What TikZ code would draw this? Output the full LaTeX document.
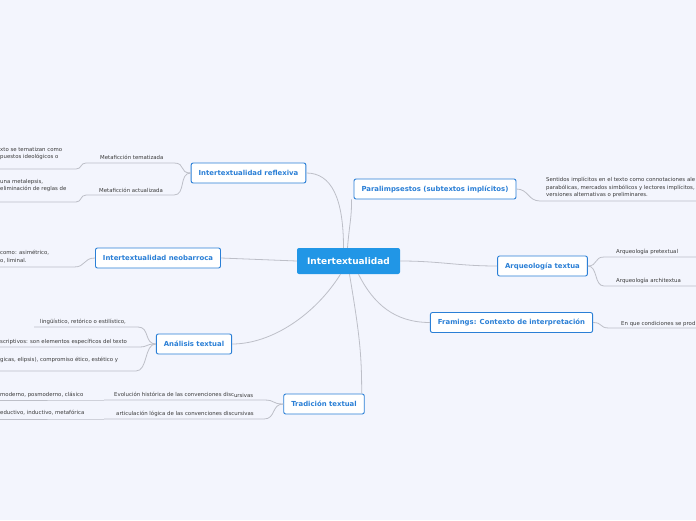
\documentclass[tikz,border=0pt]{standalone}
\usepackage{fontspec}
\setmainfont{DejaVu Sans}
\definecolor{bg}{HTML}{F3F5FD}
\definecolor{nodeblue}{HTML}{2A7FD6}
\definecolor{centerblue}{HTML}{2196E6}
\definecolor{conncol}{HTML}{BDBFC8}
\definecolor{leafcol}{HTML}{3A3A3A}
\begin{document}
\begin{tikzpicture}[x=1pt,y=-1pt,
  topic/.style={draw=nodeblue, line width=0.9pt, fill=white, rounded corners=2pt,
    text=nodeblue, font=\fontsize{6.9}{8}\selectfont\bfseries, inner xsep=7.5pt, minimum height=20pt},
  central/.style={fill=centerblue, rounded corners=2pt, text=white,
    font=\fontsize{9}{10}\selectfont\bfseries, minimum width=103pt, minimum height=26pt},
  leaf/.style={text=leafcol, font=\fontsize{5.4}{7.6}\selectfont, inner sep=0pt, align=left},
  conn/.style={draw=conncol, line width=0.8pt},
]
\path[use as bounding box, fill=bg] (0,0) rectangle (696,520);

% main nodes
\node[central] (cen) at (348.5,261) {Intertextualidad};
\node[topic] (refl) at (248.5,173) {Intertextualidad reflexiva};
\node[topic] (neo) at (158,258) {Intertextualidad neobarroca};
\node[topic] (ana) at (194,344) {Análisis textual};
\node[topic] (trad) at (324,404) {Tradición textual};
\node[topic] (para) at (435,189) {Paralimpsestos (subtextos implícitos)};
\node[topic] (arq) at (542.5,266) {Arqueología textua};
\node[topic] (fram) at (511.5,322.5) {Framings: Contexto de interpretación};

% central connectors
\draw[conn] ([xshift=-5pt]cen.north) .. controls +(0,-50) and +(25,0) .. (refl.east);
\draw[conn] ([xshift=-1pt]cen.north) .. controls +(2,-25) and +(0,20) .. ([xshift=-2pt]para.south west);
\draw[conn] (cen.west) -- (neo.east);
\draw[conn] ([xshift=-8pt]cen.south) .. controls +(-25,40) and +(40,0) .. (ana.east);
\draw[conn] ([xshift=1pt]cen.south) .. controls +(10,60) and +(0,-40) .. ([xshift=-3pt]trad.north east);
\draw[conn] (cen.east) .. controls +(40,0) and +(-40,0) .. (arq.west);
\draw[conn] ([xshift=10pt]cen.south) .. controls +(15,30) and +(-35,0) .. (fram.west);

% ---- Intertextualidad reflexiva
\node[leaf, anchor=base west] (mt) at (100,159) {Metaficción tematizada};
\coordinate (mtA) at (86,163); \coordinate (mtB) at (174,163);
\draw[conn] (refl.west) .. controls +(-12,0) and +(12,0) .. (mtB) -- (mtA);
\node[leaf, anchor=south west] (mtc) at (0,160) {xto se tematizan como\\puestos ideológicos o};
\coordinate (mtcA) at (0,169); \coordinate (mtcB) at (76,169);
\draw[conn] (mtA) .. controls +(-6,0) and +(6,0) .. (mtcB) -- (mtcA);

\node[leaf, anchor=base west] (ma) at (99,192) {Metaficción actualizada};
\coordinate (maA) at (86,195); \coordinate (maB) at (174,195);
\draw[conn] (refl.west) .. controls +(-12,0) and +(12,0) .. (maB) -- (maA);
\node[leaf, anchor=south west] (mac) at (0,192) {una metalepsis,\\eliminación de reglas de};
\coordinate (macA) at (0,202); \coordinate (macB) at (76,202);
\draw[conn] (maA) .. controls +(-6,0) and +(6,0) .. (macB) -- (macA);

% ---- neobarroca
\node[leaf, anchor=south west] (nc) at (0,263) {como: asimétrico,\\o, liminal.};
\coordinate (ncA) at (0,267); \coordinate (ncB) at (74,267);
\draw[conn] (neo.west) .. controls +(-12,0) and +(12,0) .. (ncB) -- (ncA);

% ---- Análisis textual
\node[leaf, anchor=base west] (a1) at (40,323) {lingüístico, retórico o estilístico,};
\coordinate (a1A) at (34,327); \coordinate (a1B) at (138,327);
\draw[conn] (ana.west) .. controls +(-12,0) and +(12,0) .. (a1B) -- (a1A);
\node[leaf, anchor=base west] (a2) at (0,343) {scriptivos: son elementos específicos del texto};
\coordinate (a2A) at (0,347); \coordinate (a2B) at (138,347);
\draw[conn] (ana.west) .. controls +(-12,0) and +(12,0) .. (a2B) -- (a2A);
\node[leaf, anchor=base west] (a3) at (0,361) {gicas, elipsis), compromiso ético, estético y};
\coordinate (a3A) at (0,371); \coordinate (a3B) at (136,371);
\draw[conn] (ana.west) .. controls +(-12,0) and +(12,0) .. (a3B) -- (a3A);

% ---- Tradición textual
\node[leaf, anchor=base west] (t1) at (114,396) {Evolución histórica de las convenciones disc\raisebox{-1.5pt}{ursivas}};
\coordinate (t1A) at (104,400); \coordinate (t1B) at (264,400);
\draw[conn] (trad.west) .. controls +(-12,0) and +(12,0) .. (t1B) -- (t1A);
\node[leaf, anchor=base west] (t1c) at (0,396) {moderno, posmoderno, clásico};
\coordinate (t1cA) at (0,400); \coordinate (t1cB) at (94,400);
\draw[conn] (t1A) .. controls +(-5,0) and +(5,0) .. (t1cB) -- (t1cA);

\node[leaf, anchor=base west] (t2) at (116,415) {articulación lógica de las convenciones discursivas};
\coordinate (t2A) at (104,419); \coordinate (t2B) at (264,419);
\draw[conn] (trad.west) .. controls +(-12,0) and +(12,0) .. (t2B) -- (t2A);
\node[leaf, anchor=base west] (t2c) at (0,414) {eductivo, inductivo, metafórica};
\coordinate (t2cA) at (0,419); \coordinate (t2cB) at (94,419);
\draw[conn] (t2A) .. controls +(-5,0) and +(5,0) .. (t2cB) -- (t2cA);

% ---- Paralimpsestos
\node[leaf, anchor=south west] (pc) at (546,198) {Sentidos implícitos en el texto como connotaciones ale\\parabólicas, mercados simbólicos y lectores implícitos,\\versiones alternativas o preliminares.};
\coordinate (pcA) at (540,201); \coordinate (pcB) at (696,201);
\draw[conn] (para.east) .. controls +(12,0) and +(-12,0) .. (pcA) -- (pcB);

% ---- Arqueología
\node[leaf, anchor=base west] (q1) at (616,253) {Arqueología pretextual};
\coordinate (q1A) at (604,257); \coordinate (q1B) at (696,257);
\draw[conn] (arq.east) .. controls +(10,0) and +(-10,0) .. (q1A) -- (q1B);
\node[leaf, anchor=base west] (q2) at (616,282) {Arqueología architextua};
\coordinate (q2A) at (604,286); \coordinate (q2B) at (696,286);
\draw[conn] (arq.east) .. controls +(10,0) and +(-10,0) .. (q2A) -- (q2B);

% ---- Framings
\node[leaf, anchor=base west] (fc) at (621,325) {En que condiciones se prod};
\coordinate (fcA) at (609,328); \coordinate (fcB) at (696,328);
\draw[conn] (fram.east) .. controls +(10,0) and +(-10,0) .. (fcA) -- (fcB);
\end{tikzpicture}
\end{document}
